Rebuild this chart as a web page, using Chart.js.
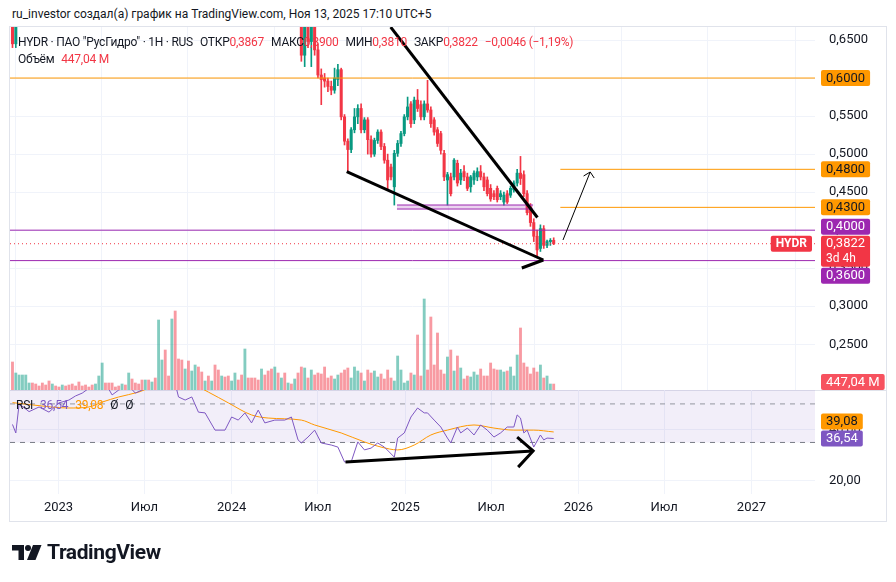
<!DOCTYPE html>
<html>
<head>
<meta charset="utf-8">
<script src="https://cdn.jsdelivr.net/npm/chart.js@4.4.1/dist/chart.umd.min.js"></script>
<style>
  body { margin: 0; background: #fff; }
  #wrap { position: relative; width: 896px; height: 582px; overflow: hidden; font-family: Roboto, "Noto Sans", sans-serif; color: #131722; }
  #wrap canvas { position: absolute; left: 0; }
  #frame { position: absolute; left: 9px; top: 26px; width: 876px; height: 494px; border: 1px solid #e0e3eb; }
  #sep { position: absolute; left: 10px; top: 390px; width: 876px; height: 1px; background: #e0e3eb; }
  .t { position: absolute; white-space: nowrap; font-size: 12px; line-height: 16px; }
  .t .v { color: #F23645; }
  .t .gap { margin-left: 7px; }
  #hdr { left: 12px; top: 6px; }
  #leg1 { left: 18px; top: 34px; letter-spacing: -0.25px; }
  #leg2 { left: 18px; top: 51px; letter-spacing: -0.25px; }
  #leg3 { left: 16px; top: 397px; letter-spacing: -0.25px; }
  #logo { position: absolute; left: 12px; top: 540px; height: 24px; display: flex; align-items: center; }
  #logo span { font-weight: 700; font-size: 21px; letter-spacing: -0.4px; margin-left: 5px; color: #131722; }
</style>
</head>
<body>
<div id="wrap">
  <div class="t" id="hdr">ru_investor создал(а) график на TradingView.com, Ноя 13, 2025 17:10 UTC+5</div>
  <div id="frame"></div>
  <canvas id="cPrice" width="896" height="400" style="top:0"></canvas>
  <div id="sep"></div>
  <canvas id="cRsi" width="896" height="192" style="top:390px"></canvas>
  <div class="t" id="leg1">HYDR · ПАО "РусГидро" · 1H · RUS<span class="gap">ОТКР</span><span class="v">0,3867</span><span class="gap">МАКС</span><span class="v">0,3900</span><span class="gap">МИН</span><span class="v">0,3810</span><span class="gap">ЗАКР</span><span class="v">0,3822</span><span class="gap v">−0,0046 (−1,19%)</span></div>
  <div class="t" id="leg2">Объём<span class="gap v">447,04 M</span></div>
  <div class="t" id="leg3">RSI<span class="gap" style="color:#7E57C2">36,54</span><span class="gap" style="color:#FF9800">39,08</span><span class="gap">Ø</span><span class="gap">Ø</span></div>
  <div id="logo">
    <svg width="30" height="17" viewBox="0 0 30 17"><path d="M0 1h12v15H6.5V6.5H0z" fill="#131722"/><circle cx="16" cy="4" r="3" fill="#131722"/><path d="M21 1h8.5l-6 15h-8.5z" fill="#131722"/></svg>
    <span>TradingView</span>
  </div>
</div>
<script>
// weekly bars, index 0 = week of 26.09.2022
const open = [
  .690,.645,.705,.720,.735,.750,.755,.745,.740,.735,.730,.725,.715,.725,.720,.715,.730,.725,.720,.715,
  .710,.705,.700,.695,.692,.688,.720,.760,.800,.790,.785,.780,.775,.770,.785,.780,.810,.800,.795,.790,
  .785,.800,.795,.810,.800,.880,.910,.870,.860,.920,.850,.820,.800,.820,.790,.800,.815,.790,.775,.780,
  .765,.770,.745,.730,.740,.735,.725,.730,.745,.740,.730,.770,.760,.755,.750,.745,.765,.755,.745,.735,
  .750,.740,.745,.735,.740,.725,.730,.676,.630,.668,.648,.680,.637,.604,.600,.596,.589,.584,.598,.611,
  .549,.517,.506,.532,.549,.560,.532,.545,.519,.500,.518,.529,.510,.492,.483,.457,.501,.514,.527,.549,
  .566,.545,.571,.565,.549,.566,.558,.545,.532,.527,.501,.466,.470,.470,.488,.466,.477,.470,.457,.466,
  .470,.477,.470,.466,.455,.448,.455,.444,.437,.448,.446,.453,.462,.475,.473,.448,.431,.410,.392,.376,
  .402,.380,.385,.3867
];
const high = [
  .710,.720,.730,.745,.760,.765,.760,.750,.745,.740,.735,.730,.730,.730,.725,.735,.735,.730,.725,.720,
  .715,.710,.705,.700,.698,.725,.765,.810,.805,.795,.790,.785,.780,.790,.790,.815,.815,.805,.800,.795,
  .805,.805,.815,.815,.890,.920,.915,.880,.930,.925,.860,.830,.825,.825,.805,.820,.820,.795,.785,.785,
  .775,.775,.750,.745,.745,.740,.735,.750,.750,.745,.775,.775,.765,.760,.755,.770,.770,.760,.750,.755,
  .755,.750,.750,.745,.745,.740,.735,.690,.690,.690,.700,.690,.645,.612,.606,.600,.596,.613,.618,.613,
  .552,.520,.535,.560,.565,.566,.548,.548,.524,.521,.532,.532,.514,.500,.487,.505,.518,.530,.552,.575,
  .569,.575,.585,.570,.570,.597,.562,.548,.535,.530,.505,.476,.475,.494,.492,.480,.485,.475,.472,.478,
  .482,.485,.475,.470,.460,.452,.458,.452,.450,.452,.458,.465,.480,.497,.478,.452,.435,.415,.400,.407,
  .406,.387,.389,.390
];
const low = [
  .640,.640,.700,.715,.730,.745,.740,.735,.730,.725,.720,.710,.710,.715,.710,.710,.720,.715,.710,.705,
  .700,.695,.690,.688,.682,.685,.715,.755,.785,.780,.775,.770,.765,.765,.775,.775,.795,.790,.785,.780,
  .780,.790,.790,.795,.795,.870,.860,.850,.855,.840,.815,.795,.795,.785,.785,.795,.785,.770,.770,.760,
  .760,.740,.725,.725,.730,.720,.720,.725,.735,.725,.725,.755,.750,.745,.740,.740,.750,.740,.730,.730,
  .735,.735,.730,.730,.720,.715,.672,.622,.615,.640,.615,.630,.600,.565,.588,.582,.578,.580,.590,.545,
  .512,.477,.502,.528,.540,.528,.528,.500,.496,.497,.514,.506,.488,.453,.466,.433,.497,.510,.524,.545,
  .535,.540,.556,.545,.545,.555,.535,.525,.510,.500,.465,.433,.445,.466,.458,.460,.465,.452,.450,.460,
  .465,.466,.452,.445,.438,.440,.437,.440,.433,.435,.443,.450,.458,.460,.444,.420,.405,.385,.365,.372,
  .376,.377,.380,.381
];
const close = [
  .645,.705,.720,.735,.750,.755,.745,.740,.735,.730,.725,.715,.725,.720,.715,.730,.725,.720,.715,.710,
  .705,.700,.695,.692,.688,.720,.760,.800,.790,.785,.780,.775,.770,.785,.780,.810,.800,.795,.790,.785,
  .800,.795,.810,.800,.880,.910,.870,.860,.920,.850,.820,.800,.820,.790,.800,.815,.790,.775,.780,.765,
  .770,.745,.730,.740,.735,.725,.730,.745,.740,.730,.770,.760,.755,.750,.745,.765,.755,.745,.735,.750,
  .740,.745,.735,.740,.725,.730,.676,.630,.668,.648,.680,.637,.604,.598,.596,.589,.584,.600,.611,.549,
  .517,.506,.532,.549,.560,.532,.545,.519,.500,.518,.529,.510,.492,.466,.470,.501,.514,.527,.549,.562,
  .540,.571,.560,.549,.566,.558,.540,.529,.514,.505,.470,.473,.448,.492,.462,.475,.470,.455,.470,.475,
  .477,.470,.457,.448,.441,.444,.440,.448,.446,.437,.455,.462,.475,.468,.448,.423,.410,.392,.374,.402,
  .380,.385,.3867,.3822
];
// volume, millions of shares
const volume = [
  2100,1275,1125,1125,1125,525,525,450,300,525,375,675,450,300,225,375,300,375,450,300,
  600,300,375,225,375,450,1050,2025,525,525,525,225,300,450,375,1275,825,525,450,750,
  750,750,600,900,5250,2250,3000,1050,5325,5925,2325,2250,1575,2175,1425,1875,1725,1350,675,1050,
  675,1875,1500,1050,975,1050,675,1275,750,1125,3075,900,900,900,750,1575,1125,1425,1575,1725,
  1275,900,1275,525,450,825,1275,1725,1650,900,1500,1125,1275,1200,1725,900,1050,825,1125,1275,
  1500,1650,900,1725,1425,1275,675,1500,1275,1425,975,1200,825,1500,900,675,2550,1500,525,675,
  1275,1125,4125,1050,6825,1500,5475,1875,4275,1500,1200,2475,3000,1425,2550,1650,825,1050,975,1350,
  1125,1575,1050,1050,2025,1575,1500,1500,1350,1425,1725,1050,2625,4650,2025,1725,1200,1650,1350,1875,
  900,1050,450,447.04
];

const timeTickWeeks = [13.86, 39.71, 66.0, 92.0, 118.29, 144.14, 170.43, 196.29, 222.57];
const timeTickLabels = ['2023', 'Июл', '2024', 'Июл', '2025', 'Июл', '2026', 'Июл', '2027'];
const priceTicks = [0.25, 0.30, 0.35, 0.40, 0.45, 0.50, 0.55, 0.60, 0.65];
const rsiTicks = [20, 40];

const rsiWeeks = [0,1,2,5,8,11,14,17,19,21,24,28,30,32,35,37,40,43,46,49,50,52,54,56,58,61,64,66,68,70,72,74,76,79,82,84,
  86,87,89,91,93,96,98,100,102,104,106,108,110,112,115,116,118,120,122,124,125,127,129,131,132,134,135,137,139,141,143,145,147,149,151,152,153,154,155,157,159,160,161,163];
const rsiValues = [42,38.7,50,47,48.8,46.8,50.4,51.5,53.1,54.2,57,58,53.5,55.4,57,54.2,56,60,62,58,52.7,51.5,52.7,46.8,46.5,39.8,39.8,44.9,43.7,46.5,42.6,47.6,42.6,43.7,43.7,44.9,
  36,34.8,37.1,39.8,34.8,34,33.2,27.4,27.4,35.2,32.1,32.8,34.8,33.2,29.3,36.7,38.7,44.9,48.4,46.5,46.5,43.7,41,36.7,34.8,41,38.7,40.6,37.9,41.8,39.8,37.1,38.7,41,41,45.7,44.5,38.7,39.8,33.2,37.9,36,36.7,36.54];
const maWeeks = [0,6,17,23,27,32,38,42,50,56,59,65,72,77,87,91,99,106,111,116,121,126,131,139,145,151,157,163];
const maValues = [50.5,49.6,48.4,48.8,50.7,52.7,54.6,56.5,58,56.5,54.6,50.4,45.7,44.5,43.7,41.8,38.7,35.2,33.2,32.1,34,37.9,39.8,41.8,40.6,39.8,39.8,39.08];
const rsiBandHigh = 50, rsiBandLow = 35, rsiFillTop = 70;

const orangeLevels = [0.60, 0.48, 0.43];
const orangeStarts = [null, 165, 165];
const purpleLevels = [0.40, 0.36];
const lastPrice = 0.3822;
const boxWeeks = [115.8, 156.8];
const boxPrices = [0.4331, 0.4278];
const upperTrendWeeks = [113.9, 158.1];
const upperTrendPrices = [0.667, 0.4167];
const lowerTrendWeeks = [100.66, 159.88];
const lowerTrendPrices = [0.4769, 0.3608];
const lowerHeadWeeks = [153.4, 159.88];
const lowerHeadPrices = [0.3503, 0.3608];
const thinArrowWeeks = [165.8, 174.0];
const thinArrowPrices = [0.3871, 0.4765];
const thinHeadWeeks = [172.0, 174.0, 175.2];
const thinHeadPrices = [0.4712, 0.4765, 0.4686];
const rsiArrowWeeks = [100.3, 156.8];
const rsiArrowValues = [27.4, 31.7];
const rsiHeadWeeks = [152.0, 156.8, 152.3];
const rsiHeadValues = [37.1, 31.7, 25.4];

const family = 'Roboto, "Noto Sans", sans-serif';
const up = '#089981', down = '#F23645';
const gridColor = '#f0f3fa';
const xMin = -0.75, xMax = 241.7;

const pts = (xs, ys) => xs.map((x, i) => ({ x, y: ys[i] }));
const isUp = i => close[i] >= open[i];
const fmt = (v, d) => v.toFixed(d).replace('.', ',');

const lineDs = (data, color, width, extra = {}) => Object.assign({
  type: 'line', data, borderColor: color, borderWidth: width, pointRadius: 0, fill: false, tension: 0
}, extra);

// no label overflow padding, the panes are laid out by hand
const noPad = s => { s.paddingTop = 0; s.paddingBottom = 0; s.paddingLeft = 0; s.paddingRight = 0; };

const xAxis = showLabels => ({
  type: 'linear', min: xMin, max: xMax, offset: false,
  afterBuildTicks: s => { s.ticks = timeTickWeeks.map(v => ({ value: v })); },
  afterFit: s => { s.height = showLabels ? 30 : 0; noPad(s); },
  grid: { color: gridColor, drawTicks: false },
  border: { display: false },
  ticks: {
    display: showLabels, autoSkip: false, maxRotation: 0, padding: 6,
    color: '#131722', font: { family, size: 13 },
    callback: (v, i) => timeTickLabels[i]
  }
});

const yAxis = (min, max, ticks, digits) => ({
  position: 'right', min, max,
  afterBuildTicks: s => { s.ticks = ticks.map(v => ({ value: v })); },
  afterFit: s => { s.width = 71; noPad(s); },
  grid: { color: gridColor, drawTicks: false },
  border: { display: false },
  ticks: { padding: 14, color: '#131722', font: { family, size: 13 }, callback: v => fmt(v, digits) }
});

// axis badges, stacked so they never overlap
function drawBadges(chart, items) {
  const ctx = chart.ctx, a = chart.chartArea;
  const laid = items.map(b => {
    const y = chart.scales[b.axis].getPixelForValue(b.value);
    const h = b.sub ? 31 : 16;
    return Object.assign({ top: y - 8, h }, b);
  }).sort((p, q) => p.top - q.top);
  const k = laid.findIndex(b => b.anchor);
  for (let i = k + 1; i < laid.length; i++) laid[i].top = Math.max(laid[i].top, laid[i - 1].top + laid[i - 1].h + 1);
  for (let i = k - 1; i >= 0; i--) laid[i].top = Math.min(laid[i].top, laid[i + 1].top - laid[i].h - 1);
  ctx.save();
  ctx.textBaseline = 'middle';
  laid.forEach(b => {
    ctx.font = `13px ${family}`;
    const w = ctx.measureText(b.text).width + 10;
    const top = Math.min(b.top, a.bottom - b.h);
    const x = a.right + 6;
    ctx.fillStyle = b.bg;
    ctx.beginPath(); ctx.roundRect(x, top, w, b.h, 2); ctx.fill();
    ctx.fillStyle = b.fg;
    ctx.fillText(b.text, x + 5, top + 8.5);
    if (b.sub) { ctx.font = `12px ${family}`; ctx.fillText(b.sub, x + 5, top + 23.5); }
    if (b.tag) {
      ctx.font = `bold 12px ${family}`;
      const tw = ctx.measureText(b.tag).width + 10;
      ctx.fillStyle = b.bg;
      ctx.beginPath(); ctx.roundRect(a.right - 3 - tw, top, tw, 16, 2); ctx.fill();
      ctx.fillStyle = '#fff';
      ctx.fillText(b.tag, a.right - 3 - tw + 5, top + 8.5);
    }
  });
  ctx.restore();
}

const priceBadges = [
  { axis: 'y', value: 0.60, text: '0,6000', bg: '#FF9800', fg: '#131722' },
  { axis: 'y', value: 0.48, text: '0,4800', bg: '#FF9800', fg: '#131722' },
  { axis: 'y', value: 0.43, text: '0,4300', bg: '#FF9800', fg: '#131722' },
  { axis: 'y', value: 0.40, text: '0,4000', bg: '#9C27B0', fg: '#fff' },
  { axis: 'y', value: lastPrice, text: fmt(lastPrice, 4), sub: '3d 4h', tag: 'HYDR', bg: '#F23645', fg: '#fff', anchor: true },
  { axis: 'y', value: 0.36, text: '0,3600', bg: '#9C27B0', fg: '#fff' }
];

const priceDatasets = [
  lineDs(pts(upperTrendWeeks, upperTrendPrices), '#000', 3, { order: 0 }),
  lineDs(pts(lowerTrendWeeks, lowerTrendPrices), '#000', 3, { order: 0 }),
  lineDs(pts(lowerHeadWeeks, lowerHeadPrices), '#000', 3, { order: 0 }),
  lineDs(pts(thinArrowWeeks, thinArrowPrices), '#000', 1, { order: 0 }),
  lineDs(pts(thinHeadWeeks, thinHeadPrices), '#000', 1, { order: 0 }),
  ...orangeLevels.map((p, i) => lineDs([{ x: orangeStarts[i] ?? xMin, y: p }, { x: xMax, y: p }], '#FF9800', 1, { order: 1 })),
  ...purpleLevels.map(p => lineDs([{ x: xMin, y: p }, { x: xMax, y: p }], '#9C27B0', 1, { order: 1 })),
  lineDs(pts(boxWeeks, [boxPrices[0], boxPrices[0]]), '#9C27B0', 1, { order: 1 }),
  lineDs(pts(boxWeeks, [boxPrices[1], boxPrices[1]]), '#9C27B0', 1, { order: 1, fill: '-1', backgroundColor: 'rgba(156,39,176,0.2)' }),
  lineDs([{ x: xMin, y: lastPrice }, { x: xMax, y: lastPrice }], '#F23645', 1, { order: 2, borderDash: [1, 3] }),
  {
    type: 'bar', order: 3, grouped: false, barThickness: 2.4, yAxisID: 'y',
    data: open.map((o, i) => ({ x: i, y: [o, close[i]] })),
    backgroundColor: c => isUp(c.dataIndex) ? up : down
  },
  {
    type: 'bar', order: 4, grouped: false, barThickness: 1, yAxisID: 'y',
    data: low.map((l, i) => ({ x: i, y: [l, high[i]] })),
    backgroundColor: c => isUp(c.dataIndex) ? up : down
  },
  {
    type: 'bar', order: 5, grouped: false, barThickness: 2.2, yAxisID: 'yv',
    data: volume.map((v, i) => ({ x: i, y: v })),
    backgroundColor: c => isUp(c.dataIndex) ? 'rgba(8,153,129,0.5)' : 'rgba(242,54,69,0.5)'
  }
];

new Chart(document.getElementById('cPrice'), {
  type: 'bar',
  data: { datasets: priceDatasets },
  options: {
    responsive: false, animation: false, events: [],
    layout: { padding: { left: 10, right: 10, top: 27, bottom: 10 } },
    plugins: { legend: { display: false }, tooltip: { enabled: false } },
    scales: {
      x: xAxis(false),
      y: yAxis(0.1899, 0.6671, priceTicks, 4),
      yv: { display: false, min: 0, max: 27225 }
    }
  },
  plugins: [{
    id: 'badges',
    afterDraw: c => {
      drawBadges(c, priceBadges);
      drawBadges(c, [{ axis: 'yv', value: volume[volume.length - 1], text: '447,04 M', bg: '#F7525F', fg: '#fff', anchor: true }]);
    }
  }]
});

const rsiBadges = [
  { axis: 'y', value: maValues[maValues.length - 1], text: '39,08', bg: '#FF9800', fg: '#131722' },
  { axis: 'y', value: rsiValues[rsiValues.length - 1], text: '36,54', bg: '#7E57C2', fg: '#fff', anchor: true }
];

new Chart(document.getElementById('cRsi'), {
  type: 'line',
  data: {
    datasets: [
      lineDs(pts(rsiArrowWeeks, rsiArrowValues), '#000', 3, { order: 0 }),
      lineDs(pts(rsiHeadWeeks, rsiHeadValues), '#000', 3, { order: 0 }),
      lineDs(pts(rsiWeeks, rsiValues), '#7E57C2', 1, { order: 1 }),
      lineDs(pts(maWeeks, maValues), '#FF9800', 1, { order: 2, tension: 0.4, cubicInterpolationMode: 'monotone' }),
      lineDs([{ x: xMin, y: rsiBandHigh }, { x: xMax, y: rsiBandHigh }], '#9598a1', 1, { order: 3, borderDash: [5, 5] }),
      lineDs([{ x: xMin, y: rsiBandLow }, { x: xMax, y: rsiBandLow }], '#787B86', 1, { order: 3, borderDash: [5, 5] }),
      lineDs([{ x: xMin, y: rsiFillTop }, { x: xMax, y: rsiFillTop }], 'rgba(0,0,0,0)', 0, { order: 4, fill: { value: rsiBandLow }, backgroundColor: 'rgba(126,87,194,0.1)' })
    ]
  },
  options: {
    responsive: false, animation: false, events: [],
    layout: { padding: { left: 10, right: 10, top: 0, bottom: 58 } },
    plugins: { legend: { display: false }, tooltip: { enabled: false } },
    scales: {
      x: xAxis(true),
      y: yAxis(14.94, 55.41, rsiTicks, 2)
    }
  },
  plugins: [{ id: 'badges', afterDraw: c => drawBadges(c, rsiBadges) }]
});
</script>
</body>
</html>
